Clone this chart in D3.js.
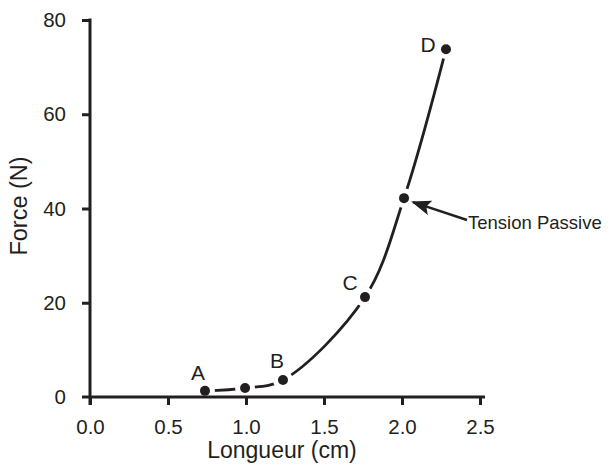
<!DOCTYPE html>
<html lang="fr">
  <head>
    <meta charset="UTF-8" />
    <title>Force - Longueur</title>
    <script src="https://cdn.jsdelivr.net/npm/d3@7/dist/d3.min.js"></script>
    <style>
      body { margin: 0; background: #fff; }
      text { font-family: "Liberation Sans", Arial, sans-serif; fill: #231f20; }
      .axis path, .axis line { stroke: #231f20; stroke-width: 3px; }
      .axis text { font-size: 20.5px; font-family: "Liberation Sans", Arial, sans-serif; fill: #231f20; }
    </style>
  </head>
  <body>
    <svg width="611" height="466"></svg>
    <script>
      const svg = d3.select("svg");

      // data
      const lengths = [0.737, 0.994, 1.237, 1.763, 2.013, 2.282];
      const forces = [1.3, 1.9, 3.6, 21.2, 42.2, 73.8];
      const pointLabels = ["A", "", "B", "C", "", "D"];
      const xTicks = [0, 0.5, 1.0, 1.5, 2.0, 2.5];
      const yTicks = [0, 20, 40, 60, 80];

      const points = lengths.map((x, i) => ({ x, y: forces[i], label: pointLabels[i] }));

      const x = d3.scaleLinear().domain([0, 2.5]).range([90, 480]);
      const y = d3.scaleLinear().domain([0, 80]).range([397, 20]);

      // curve
      const line = d3
        .line()
        .x((d) => x(d.x))
        .y((d) => y(d.y))
        .curve(d3.curveCatmullRom.alpha(0.5));

      svg
        .append("path")
        .datum(points)
        .attr("d", line)
        .attr("fill", "none")
        .attr("stroke", "#231f20")
        .attr("stroke-width", 2.8);

      // white halos give the gaps around each dot
      svg
        .append("g")
        .selectAll("circle")
        .data(points)
        .enter()
        .append("circle")
        .attr("cx", (d) => x(d.x))
        .attr("cy", (d) => y(d.y))
        .attr("r", 10)
        .attr("fill", "#fff");

      // axes
      const xAxis = svg
        .append("g")
        .attr("class", "axis")
        .attr("transform", `translate(0,${y(0)})`)
        .call(
          d3
            .axisBottom(x)
            .tickValues(xTicks)
            .tickFormat(d3.format(".1f"))
            .tickSize(8)
            .tickSizeOuter(0)
            .tickPadding(14)
        );
      xAxis.select(".domain").attr("d", `M82,0H485`);

      const yAxis = svg
        .append("g")
        .attr("class", "axis")
        .attr("transform", `translate(${x(0)},0)`)
        .call(d3.axisLeft(y).tickValues(yTicks).tickSize(8).tickSizeOuter(0).tickPadding(16));
      yAxis.select(".domain").attr("d", `M0,18.5V405`);
      yAxis.selectAll(".tick").filter((d) => d === 0).select("line").remove();
      svg.selectAll(".axis").attr("font-size", null).attr("font-family", null);

      svg
        .append("g")
        .selectAll("circle")
        .data(points)
        .enter()
        .append("circle")
        .attr("cx", (d) => x(d.x))
        .attr("cy", (d) => y(d.y))
        .attr("r", 5)
        .attr("fill", "#231f20");

      // point letters
      const labelOffset = { A: [-7, -11], B: [-6, -12], C: [-15, -7], D: [-18, 3] };
      svg
        .append("g")
        .selectAll("text")
        .data(points.filter((d) => d.label))
        .enter()
        .append("text")
        .attr("x", (d) => x(d.x) + labelOffset[d.label][0])
        .attr("y", (d) => y(d.y) + labelOffset[d.label][1])
        .attr("text-anchor", "middle")
        .attr("font-size", 21)
        .text((d) => d.label);

      // annotation arrow
      const tp = points[4];
      svg
        .append("defs")
        .append("marker")
        .attr("id", "head")
        .attr("viewBox", "0 0 10 10")
        .attr("refX", 9)
        .attr("refY", 5)
        .attr("markerWidth", 8)
        .attr("markerHeight", 6)
        .attr("markerUnits", "strokeWidth")
        .attr("orient", "auto")
        .attr("preserveAspectRatio", "none")
        .append("path")
        .attr("d", "M0,0L10,5L0,10L2,5z")
        .attr("fill", "#231f20");

      svg
        .append("line")
        .attr("x1", 467)
        .attr("y1", 220)
        .attr("x2", x(tp.x) + 9)
        .attr("y2", y(tp.y) + 4)
        .attr("stroke", "#231f20")
        .attr("stroke-width", 2.5)
        .attr("marker-end", "url(#head)");

      svg
        .append("text")
        .attr("x", 468)
        .attr("y", 229)
        .attr("font-size", 18.5)
        .text("Tension Passive");

      // axis titles
      svg
        .append("text")
        .attr("x", 282)
        .attr("y", 458)
        .attr("text-anchor", "middle")
        .attr("font-size", 23)
        .text("Longueur (cm)");

      svg
        .append("text")
        .attr("transform", `translate(27,206) rotate(-90)`)
        .attr("text-anchor", "middle")
        .attr("font-size", 23.5)
        .text("Force (N)");
    </script>
  </body>
</html>
